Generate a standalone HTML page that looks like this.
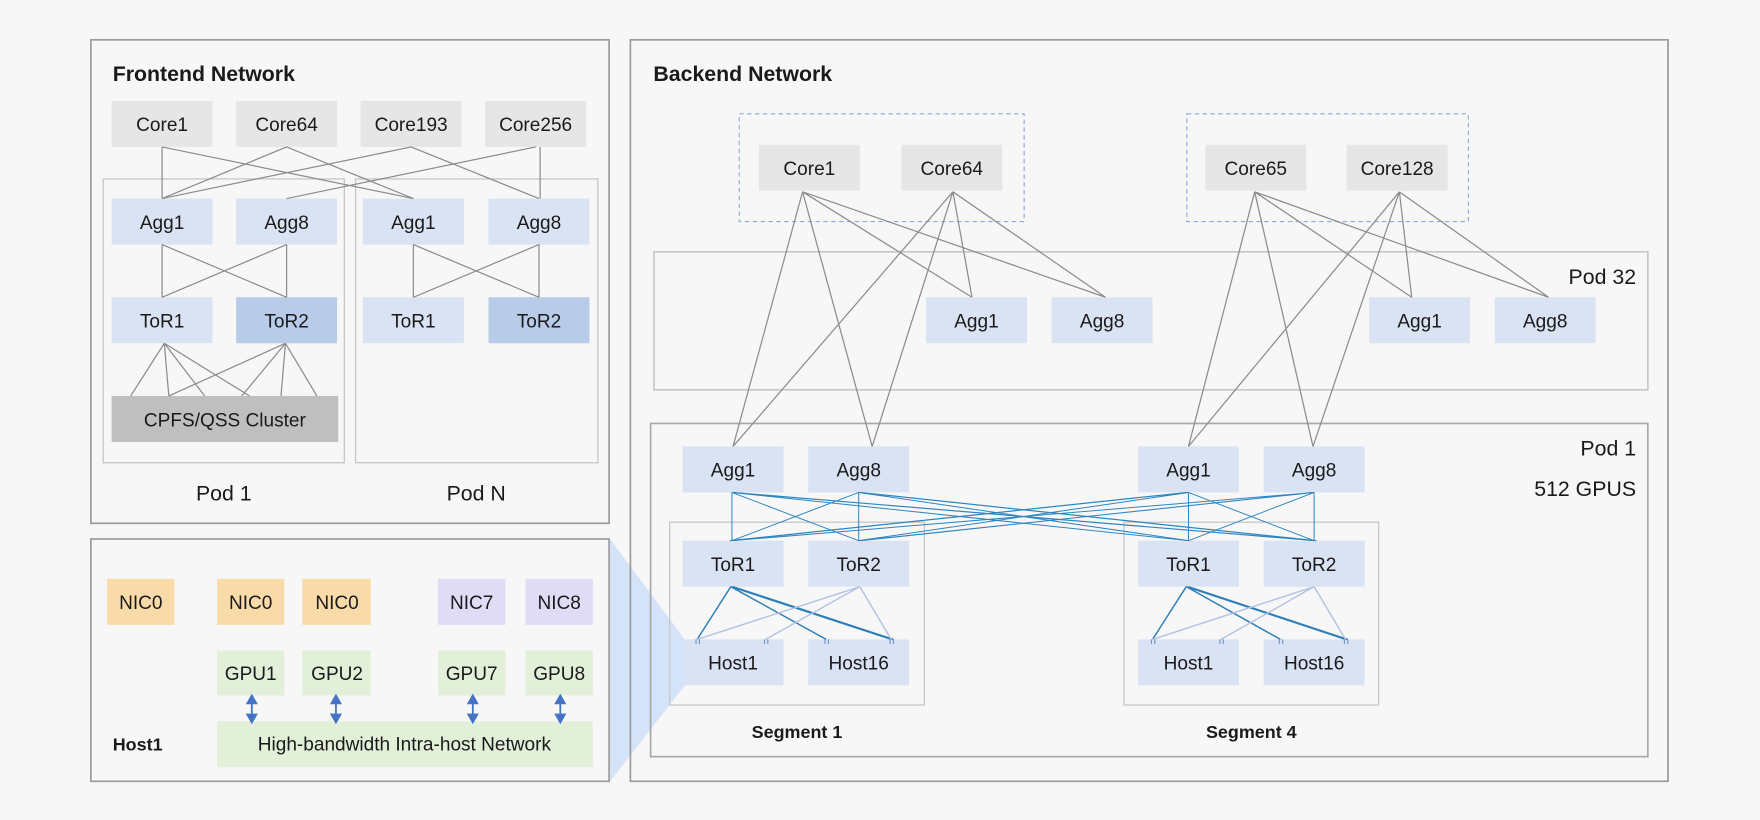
<!DOCTYPE html>
<html><head><meta charset="utf-8"><style>
html,body{margin:0;padding:0;background:#f7f7f7;}
svg{display:block;}
text{font-family:"Liberation Sans",sans-serif;fill:#1a1a1a;}
</style></head><body>
<svg width="1760" height="820" viewBox="0 0 1568 731" xmlns="http://www.w3.org/2000/svg">
<rect x="0" y="0" width="1568" height="731" fill="#f7f7f7"/>
<!-- Frontend -->
<rect x="80.5" y="35.5" width="462" height="431" fill="none" stroke="#9a9a9a" stroke-width="1.5"/>
<text x="100" y="72" font-size="19" font-weight="bold">Frontend Network</text>
<rect x="91.5" y="159.5" width="215" height="253" fill="none" stroke="#c8c8c8" stroke-width="1.2"/>
<rect x="316.5" y="159.5" width="216" height="253" fill="none" stroke="#c8c8c8" stroke-width="1.2"/>
<g fill="#e6e6e6"><rect x="99" y="90" width="90" height="41"/><rect x="210" y="90" width="90" height="41"/><rect x="321" y="90" width="90" height="41"/><rect x="432" y="90" width="90" height="41"/></g>
<g fill="#dae3f3"><rect x="99" y="177" width="90" height="41"/><rect x="210" y="177" width="90" height="41"/><rect x="323" y="177" width="90" height="41"/><rect x="435" y="177" width="90" height="41"/>
<rect x="99" y="265" width="90" height="41"/><rect x="323" y="265" width="90" height="41"/></g>
<g fill="#b8cbe8"><rect x="210" y="265" width="90" height="41"/><rect x="435" y="265" width="90" height="41"/></g>
<rect x="99" y="353" width="202" height="41" fill="#bfbfbf"/>
<g stroke="#8c8c8c" stroke-width="1.1" fill="none">
<path d="M144 131L144 177M144 131L368 177M255 131L144 177M255 131L368 177M366 131L144 177M366 131L480 177M477 131L255 177M481 131L481 177"/>
<path d="M144 218L144 265M144 218L255 265M255 218L144 265M255 218L255 265"/>
<path d="M368 218L368 265M368 218L480 265M480 218L368 265M480 218L480 265"/>
<path d="M146 306L116 353M146 306L150 353M146 306L182 353M146 306L222 353M254 306L150 353M254 306L215 353M254 306L250 353M254 306L282 353"/>
</g>
<g font-size="17" text-anchor="middle">
<text x="144" y="117">Core1</text><text x="255" y="117">Core64</text><text x="366" y="117">Core193</text><text x="477" y="117">Core256</text>
<text x="144" y="204">Agg1</text><text x="255" y="204">Agg8</text><text x="368" y="204">Agg1</text><text x="480" y="204">Agg8</text>
<text x="144" y="292">ToR1</text><text x="255" y="292">ToR2</text><text x="368" y="292">ToR1</text><text x="480" y="292">ToR2</text>
<text x="200" y="380">CPFS/QSS Cluster</text>
<text x="199" y="446" font-size="19">Pod 1</text><text x="424" y="446" font-size="19">Pod N</text>
</g>
<!-- Host inset -->
<polygon points="543,480 610,570 610,611 543,697" fill="#cfe0f7" opacity="0.9"/>
<rect x="80.5" y="480.5" width="462" height="216" fill="#f7f7f7" stroke="#9a9a9a" stroke-width="1.5"/>
<g fill="#f8dba8"><rect x="95" y="516" width="60" height="41"/><rect x="193" y="516" width="60" height="41"/><rect x="269" y="516" width="61" height="41"/></g>
<g fill="#e0dcf6"><rect x="390" y="516" width="60" height="41"/><rect x="468" y="516" width="60" height="41"/></g>
<g fill="#e2efd9"><rect x="193" y="580" width="60" height="40"/><rect x="269" y="580" width="61" height="40"/><rect x="390" y="580" width="60" height="40"/><rect x="468" y="580" width="60" height="40"/><rect x="193" y="643" width="335" height="41"/></g>
<g stroke="#4472c4" stroke-width="1.6" fill="#4472c4">
<g id="ar"><line x1="224" y1="624" x2="224" y2="640"/><polygon points="220,627 224,620 228,627"/><polygon points="220,637 224,644 228,637"/></g>
<use href="#ar" x="75"/><use href="#ar" x="197"/><use href="#ar" x="275"/>
</g>
<g font-size="17" text-anchor="middle">
<text x="125" y="543">NIC0</text><text x="223" y="543">NIC0</text><text x="300" y="543">NIC0</text><text x="420" y="543">NIC7</text><text x="498" y="543">NIC8</text>
<text x="223" y="606">GPU1</text><text x="300" y="606">GPU2</text><text x="420" y="606">GPU7</text><text x="498" y="606">GPU8</text>
<text x="360" y="669">High-bandwidth Intra-host Network</text>
</g>
<text x="100" y="669" font-size="16" font-weight="bold">Host1</text>
<!-- Backend -->
<rect x="561.5" y="35.5" width="925" height="661" fill="none" stroke="#9a9a9a" stroke-width="1.5"/>
<text x="582" y="72" font-size="19" font-weight="bold">Backend Network</text>
<g fill="none" stroke="#8eaadb" stroke-width="1" stroke-dasharray="4,3"><rect x="658.5" y="101.5" width="254" height="96"/><rect x="1057.5" y="101.5" width="251" height="96"/></g>
<rect x="582.5" y="224.5" width="886" height="123" fill="none" stroke="#c8c8c8" stroke-width="1.5"/>
<rect x="579.5" y="377.5" width="889" height="297" fill="none" stroke="#a8a8a8" stroke-width="1.5"/>
<rect x="596.5" y="465.5" width="227" height="163" fill="none" stroke="#c8c8c8" stroke-width="1.2"/>
<rect x="1001.5" y="465.5" width="227" height="163" fill="none" stroke="#c8c8c8" stroke-width="1.2"/>
<g fill="#e6e6e6"><rect x="676" y="129" width="90" height="41"/><rect x="803" y="129" width="90" height="41"/><rect x="1074" y="129" width="90" height="41"/><rect x="1200" y="129" width="90" height="41"/></g>
<g fill="#dae3f3">
<rect x="825" y="265" width="90" height="41"/><rect x="937" y="265" width="90" height="41"/><rect x="1220" y="265" width="90" height="41"/><rect x="1332" y="265" width="90" height="41"/>
<rect x="608" y="398" width="90" height="41"/><rect x="720" y="398" width="90" height="41"/><rect x="1014" y="398" width="90" height="41"/><rect x="1126" y="398" width="90" height="41"/>
<rect x="608" y="482" width="90" height="41"/><rect x="720" y="482" width="90" height="41"/><rect x="1014" y="482" width="90" height="41"/><rect x="1126" y="482" width="90" height="41"/>
<rect x="608" y="570" width="90" height="41"/><rect x="720" y="570" width="90" height="41"/><rect x="1014" y="570" width="90" height="41"/><rect x="1126" y="570" width="90" height="41"/>
</g>
<g stroke="#8c8c8c" stroke-width="1.1" fill="none">
<path d="M715 171L653 398M715 171L777 398M715 171L866 265M715 171L985 265M849 171L653 398M849 171L777 398M849 171L866 265M849 171L985 265"/>
<path d="M1118 171L1059 398M1118 171L1170 398M1118 171L1258 265M1118 171L1380 265M1247 171L1059 398M1247 171L1170 398M1247 171L1258 265M1247 171L1380 265"/>
</g>
<g stroke="#2e86c1" stroke-width="0.9" fill="none">
<path d="M652 439L652 482M652 439L765 482M652 439L1059 482M652 439L1171 482M654 439L1173 482"/>
<path d="M765 439L652 482M765 439L765 482M765 439L1059 482M765 439L1171 482M767 439L1173 482"/>
<path d="M1059 439L652 482M1059 439L765 482M1059 439L1059 482M1059 439L1171 482M1057 439L650 482"/>
<path d="M1171 439L652 482M1171 439L765 482M1171 439L1059 482M1171 439L1171 482M1169 439L767 482"/>
</g>
<g stroke="#2e7fb8" stroke-width="1.3" fill="none">
<path d="M651 523L621 570M651 523L736 570M651 523L794 570M653 523L796 570"/>
<path d="M1057 523L1027 570M1057 523L1141 570M1057 523L1199 570M1059 523L1201 570"/>
</g>
<g stroke="#b4c3e3" stroke-width="1.3" fill="none">
<path d="M766 523L621 570M766 523L682 570M766 523L794 570"/>
<path d="M1171 523L1027 570M1171 523L1088 570M1171 523L1199 570"/>
</g>
<g stroke="#6f8fc8" stroke-width="1">
<path d="M620 570v4M623 570v4M681 570v4M684 570v4M735 570v4M738 570v4M793 570v4M796 570v4"/>
<path d="M1026 570v4M1029 570v4M1087 570v4M1090 570v4M1140 570v4M1143 570v4M1198 570v4M1201 570v4"/>
</g>
<g font-size="17" text-anchor="middle">
<text x="721" y="156">Core1</text><text x="848" y="156">Core64</text><text x="1119" y="156">Core65</text><text x="1245" y="156">Core128</text>
<text x="870" y="292">Agg1</text><text x="982" y="292">Agg8</text><text x="1265" y="292">Agg1</text><text x="1377" y="292">Agg8</text>
<text x="653" y="425">Agg1</text><text x="765" y="425">Agg8</text><text x="1059" y="425">Agg1</text><text x="1171" y="425">Agg8</text>
<text x="653" y="509">ToR1</text><text x="765" y="509">ToR2</text><text x="1059" y="509">ToR1</text><text x="1171" y="509">ToR2</text>
<text x="653" y="597">Host1</text><text x="765" y="597">Host16</text><text x="1059" y="597">Host1</text><text x="1171" y="597">Host16</text>
</g>
<g font-size="19" text-anchor="end">
<text x="1458" y="253">Pod 32</text><text x="1458" y="406">Pod 1</text><text x="1458" y="442">512 GPUS</text>
</g>
<g font-size="16" font-weight="bold" text-anchor="middle">
<text x="710" y="658">Segment 1</text><text x="1115" y="658">Segment 4</text>
</g>
</svg>
</body></html>
